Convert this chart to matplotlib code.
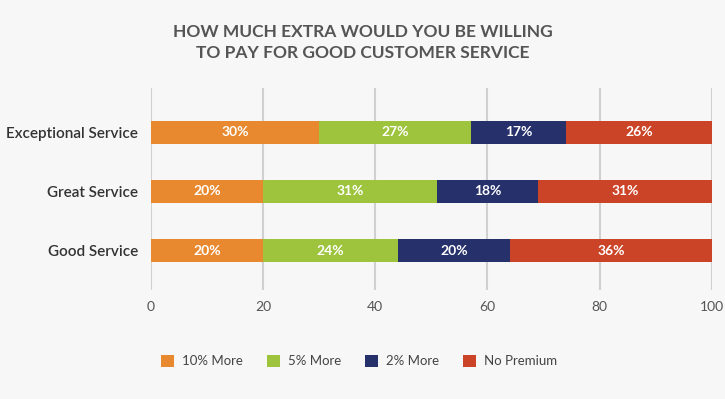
import matplotlib.pyplot as plt
import numpy as np

# survey data (percent of respondents)
categories = ["Good Service", "Great Service", "Exceptional Service"]
series_names = ["10% More", "5% More", "2% More", "No Premium"]
more_10 = [20, 20, 30]
more_5 = [24, 31, 27]
more_2 = [20, 18, 17]
no_premium = [36, 31, 26]
xticks = [0, 20, 40, 60, 80, 100]

colors = ["#E8892F", "#9DC43C", "#26306B", "#CC4427"]
bg = "#F7F7F7"

plt.rcParams['font.family'] = ['Lato', 'DejaVu Sans']

fig = plt.figure(figsize=(7.25, 3.99), dpi=100, facecolor=bg)
ax = fig.add_axes([0.208, 0.273, 0.774, 0.506], facecolor=bg)

y = np.arange(len(categories))
left = np.zeros(len(categories))
for name, vals, col in zip(series_names, [more_10, more_5, more_2, no_premium], colors):
    bars = ax.barh(y, vals, left=left, height=0.4, color=col, label=name, zorder=3)
    for b, v in zip(bars, vals):
        ax.text(b.get_x() + b.get_width() / 2, b.get_y() + b.get_height() / 2,
                f"{v}%", ha="center", va="center", color="white",
                fontsize=10, fontweight="bold", zorder=4)
    left += np.array(vals)

ax.set_xlim(0, 100)
ax.set_ylim(-0.67, 2.75)
ax.set_xticks(xticks)
ax.set_yticks(y)
ax.set_yticklabels(categories, fontsize=11, color="#333333", fontweight="semibold")
ax.tick_params(axis="x", colors="#555555", labelsize=10, length=0, pad=8)
ax.tick_params(axis="y", length=0, pad=9)
ax.grid(axis="x", color="#D0D0D0", linewidth=1.5, zorder=0)
for s in ax.spines.values():
    s.set_visible(False)

fig.text(0.5, 0.893, "HOW MUCH EXTRA WOULD YOU BE WILLING\nTO PAY FOR GOOD CUSTOMER SERVICE",
         ha="center", va="center", fontsize=12.5, fontweight="bold", color="#555555",
         linespacing=1.4)

fig.legend(loc="center", bbox_to_anchor=(0.495, 0.095), ncol=4, frameon=False,
           fontsize=9.5, handlelength=1.0, handleheight=1.0, columnspacing=1.8,
           handletextpad=0.6, labelcolor="#444444")

fig.savefig("out.png", dpi=100, facecolor=bg)
